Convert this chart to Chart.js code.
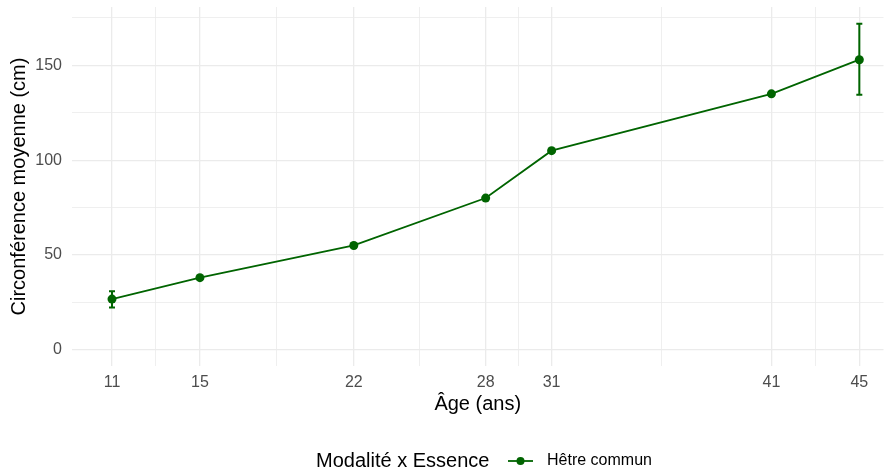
<!DOCTYPE html>
<html>
<head>
<meta charset="utf-8">
<script src="https://cdn.jsdelivr.net/npm/chart.js@4.4.1/dist/chart.umd.min.js"></script>
<style>
  html, body { margin: 0; padding: 0; background: #fff; }
  #wrap { width: 888px; height: 474px; position: relative; }
</style>
</head>
<body>
<div id="wrap"><canvas id="chart" width="888" height="474"></canvas></div>
<script>
// Age (years) and mean circumference (cm) for "Hêtre commun"
const ages = [11, 15, 22, 28, 31, 41, 45];
const circMean = [26.7, 38, 55, 80, 105, 135, 153];
const errLow = [22.3, null, null, null, null, null, 134.5];
const errHigh = [30.8, null, null, null, null, null, 172];

const xMajor = [11, 15, 22, 28, 31, 41, 45];
const xMinor = [13, 18.5, 25, 29.5, 36, 43];
const yMajor = [0, 50, 100, 150];
const yMinor = [25, 75, 125, 175];

const seriesName = 'Hêtre commun';
const legendTitle = 'Modalité x Essence';
const green = '#006400';
const font = '"Liberation Sans", Arial, sans-serif';

// draws the vertical error bars using the chart scales
const errorBars = {
  id: 'errorBars',
  afterDatasetsDraw(chart) {
    const { ctx, scales: { x, y } } = chart;
    ctx.save();
    ctx.strokeStyle = green;
    ctx.lineWidth = 2;
    ages.forEach((a, i) => {
      if (errLow[i] == null) return;
      const px = x.getPixelForValue(a);
      const top = y.getPixelForValue(errHigh[i]);
      const bot = y.getPixelForValue(errLow[i]);
      ctx.beginPath();
      ctx.moveTo(px, top); ctx.lineTo(px, bot);
      ctx.moveTo(px - 3, top); ctx.lineTo(px + 3, top);
      ctx.moveTo(px - 3, bot); ctx.lineTo(px + 3, bot);
      ctx.stroke();
    });
    ctx.restore();
  }
};

// ggplot-style legend at the bottom
const bottomLegend = {
  id: 'bottomLegend',
  afterDraw(chart) {
    const ctx = chart.ctx;
    const yc = 461;
    ctx.save();
    ctx.textBaseline = 'middle';
    ctx.textAlign = 'left';
    ctx.fillStyle = '#000';
    ctx.font = '20px ' + font;
    ctx.fillText(legendTitle, 316, yc);
    ctx.strokeStyle = green;
    ctx.lineWidth = 1.8;
    ctx.beginPath();
    ctx.moveTo(508, yc); ctx.lineTo(533, yc);
    ctx.stroke();
    ctx.fillStyle = green;
    ctx.beginPath();
    ctx.arc(520.5, yc, 4, 0, Math.PI * 2);
    ctx.fill();
    ctx.fillStyle = '#000';
    ctx.font = '16px ' + font;
    ctx.fillText(seriesName, 547, yc);
    ctx.restore();
  }
};

function gridWidth(majors) {
  return ctx => (ctx.tick && majors.includes(ctx.tick.value)) ? 1.3 : 0.8;
}

new Chart(document.getElementById('chart'), {
  type: 'line',
  data: {
    datasets: [{
      label: seriesName,
      data: ages.map((a, i) => ({ x: a, y: circMean[i] })),
      borderColor: green,
      backgroundColor: green,
      borderWidth: 1.8,
      pointRadius: 4.5,
      pointHoverRadius: 4.5,
      pointBorderWidth: 0,
      tension: 0
    }]
  },
  options: {
    responsive: false,
    animation: false,
    layout: { padding: { top: 7, right: 0, left: 0, bottom: 0 } },
    plugins: { legend: { display: false }, tooltip: { enabled: false } },
    scales: {
      x: {
        type: 'linear',
        min: 9.18,
        max: 46.1,
        afterBuildTicks: s => { s.ticks = [...xMajor, ...xMinor].map(v => ({ value: v })); },
        afterFit: s => { s.height = 108; s.paddingLeft = 0; s.paddingRight = 0; },
        border: { display: false },
        grid: { color: '#ebebeb', lineWidth: gridWidth(xMajor), drawTicks: false },
        ticks: {
          autoSkip: false,
          maxRotation: 0,
          padding: 7,
          color: '#4d4d4d',
          font: { size: 16, family: font },
          callback: v => xMajor.includes(v) ? String(v) : ''
        },
        title: {
          display: true,
          text: 'Âge (ans)',
          color: '#000',
          font: { size: 20, family: font },
          padding: { top: 0, bottom: 58 }
        }
      },
      y: {
        min: -8.6,
        max: 180.8,
        afterBuildTicks: s => { s.ticks = [...yMajor, ...yMinor].map(v => ({ value: v })); },
        afterFit: s => { s.width = 72; s.paddingTop = 0; s.paddingBottom = 0; },
        border: { display: false },
        grid: { color: '#ebebeb', lineWidth: gridWidth(yMajor), drawTicks: false },
        ticks: {
          autoSkip: false,
          padding: 10,
          color: '#4d4d4d',
          font: { size: 16, family: font },
          callback: v => yMajor.includes(v) ? String(v) : ''
        },
        title: {
          display: true,
          text: 'Circonférence moyenne (cm)',
          color: '#000',
          font: { size: 20, family: font },
          padding: { top: 7, bottom: 0 }
        }
      }
    }
  },
  plugins: [errorBars, bottomLegend]
});
</script>
</body>
</html>
